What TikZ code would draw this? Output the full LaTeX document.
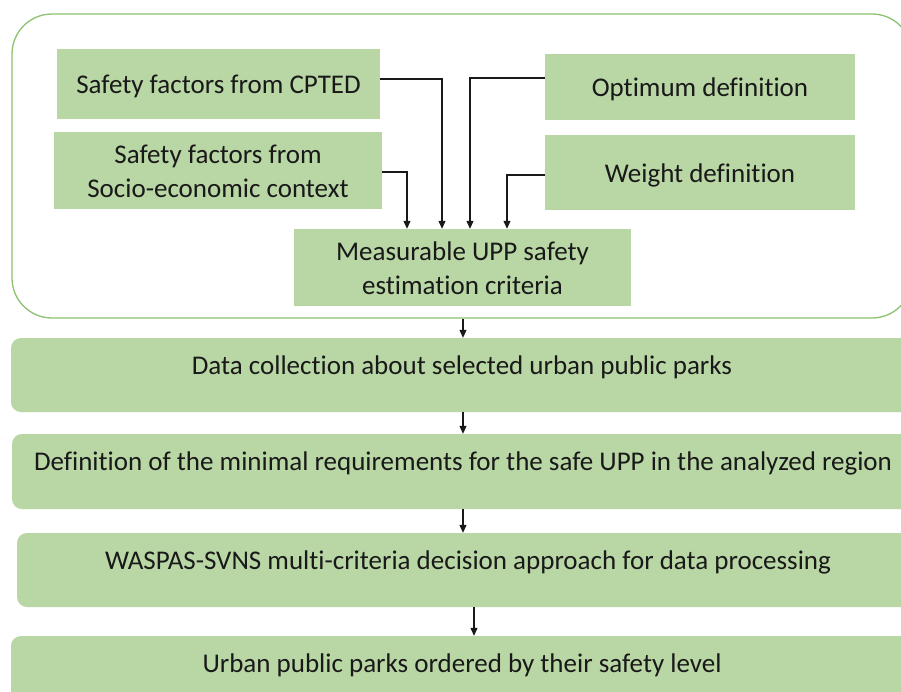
\documentclass[tikz,border=0pt]{standalone}
\usepackage{fontspec}
\setmainfont{Carlito}[Ligatures={NoCommon}]
\usetikzlibrary{arrows.meta,calc}
\definecolor{boxgreen}{RGB}{185,214,165}
\definecolor{framegreen}{RGB}{140,194,112}
\definecolor{inkc}{RGB}{25,25,25}
\newcommand{\tstrut}{\rule[-4pt]{0pt}{28pt}}
\newcommand{\bstrut}{\rule[-22pt]{0pt}{42pt}}
\tikzset{
  gbox/.style={fill=boxgreen, inner sep=0pt, align=center, text=inkc,
    font=\fontsize{27pt}{34.5pt}\selectfont},
  rbox/.style={gbox, rounded corners=10pt, minimum width=902pt, minimum height=74pt},
  frameb/.style={draw=framegreen, line width=1.3pt, rounded corners=40pt, inner sep=0pt},
  arr/.style={draw=inkc, line width=1.1pt, -{Triangle[length=8pt,width=7pt]}}
}
\begin{document}
\begin{tikzpicture}[x=1pt,y=-1pt]
\useasboundingbox (0,0) rectangle (901,691);
\clip (0,0) rectangle (901,691);
\fill[white] (0,0) rectangle (901,691);
% outer frame
\node[frameb, minimum width=900pt, minimum height=304pt] (frame) at (462,166) {};
% top boxes
\node[gbox, minimum width=323pt, minimum height=70pt] (cpted) at (218.5,84) {\tstrut Safety factors from CPTED};
\node[gbox, minimum width=328pt, minimum height=77pt] (socio) at (218,170.5) {\tstrut Safety factors from\\\tstrut Socio-economic context};
\node[gbox, minimum width=310pt, minimum height=66pt] (opt) at (700,87) {\tstrut Optimum definition};
\node[gbox, minimum width=310pt, minimum height=75pt] (weight) at (700,172.5) {\tstrut Weight definition};
\node[gbox, minimum width=337pt, minimum height=77pt] (meas) at (462.5,267.5) {\tstrut Measurable UPP safety\\\tstrut estimation criteria};
% bottom boxes
\node[rbox] (d1) at (462,375) {\bstrut Data collection about selected urban public parks};
\node[rbox, minimum height=75pt] (d2) at (463,471.5) {\bstrut Definition of the minimal requirements for the safe UPP in the analyzed region};
\node[rbox] (d3) at (468,570) {\bstrut WASPAS-SVNS multi-criteria decision approach for data processing};
\node[rbox] (d4) at (462,673) {\bstrut Urban public parks ordered by their safety level};
% connectors into measurable criteria
\draw[arr] ($(cpted.east)+(0,-5)$) -| ($(meas.north)+(-20.5,0)$);
\draw[arr] ($(socio.east)+(0,1.5)$) -| ($(meas.north)+(-55.5,0)$);
\draw[arr] ($(opt.west)+(0,-9)$) -| ($(meas.north)+(7.5,0)$);
\draw[arr] ($(weight.west)+(0,2.5)$) -| ($(meas.north)+(44.5,0)$);
% vertical flow
\draw[arr] ($(frame.south)+(1,0)$) -- ($(d1.north)+(1,0)$);
\draw[arr] ($(d1.south)+(1,0)$) -- (d2.north);
\draw[arr] (d2.south) -- ($(d3.north)+(-5,0)$);
\draw[arr] ($(d3.south)+(6,0)$) -- ($(d4.north)+(12,0)$);
\end{tikzpicture}
\end{document}
